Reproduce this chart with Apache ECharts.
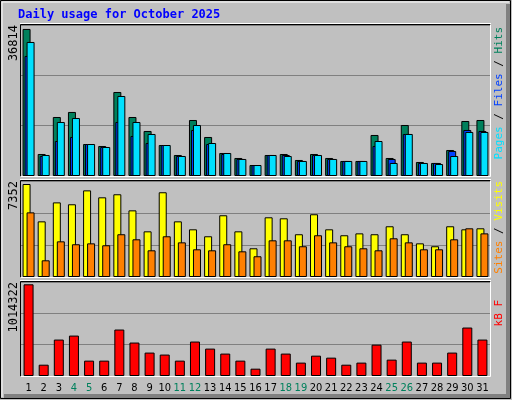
<!DOCTYPE html>
<html>
<head>
<meta charset="utf-8">
<script src="https://cdn.jsdelivr.net/npm/echarts@6/dist/echarts.min.js"></script>
<style>
  html, body { margin: 0; padding: 0; background: #c0c0c0; }
  #chart { width: 512px; height: 400px; }
</style>
</head>
<body>
<div id="chart"></div>
<script>
const days = ["1","2","3","4","5","6","7","8","9","10","11","12","13","14","15","16",
  "17","18","19","20","21","22","23","24","25","26","27","28","29","30","31"];
const weekends = ["4","5","11","12","18","19","25","26"];

const hits = [36814, 5510, 14770, 16030, 8010, 7510, 21030, 14770, 11270, 7760, 5260, 14020, 9770, 5760, 4510, 2750,
  5260, 5510, 4010, 5510, 4510, 3760, 3760, 10270, 4510, 12770, 3510, 3260, 6510, 13770, 14020];
const files = [30050, 5010, 8760, 9770, 8010, 7260, 13520, 10020, 8260, 7760, 5010, 11520, 8010, 5510, 4260, 2750,
  5260, 5260, 3760, 5260, 4260, 3760, 3760, 7510, 4260, 10520, 3260, 3260, 6260, 11520, 11270];
const pages = [33550, 5260, 13520, 14520, 8010, 7260, 20030, 13520, 10520, 7760, 5010, 12770, 8260, 5760, 4260, 2750,
  5260, 5010, 3760, 5260, 4260, 3760, 3760, 8760, 3260, 10520, 3260, 3000, 5010, 11020, 11020];
const visits = [7352, 4400, 5900, 5750, 6850, 6300, 6540, 5270, 3610, 6700, 4400, 3770, 3220, 4880, 3610, 2270,
  4720, 4640, 3380, 4960, 3770, 3300, 3450, 3380, 4010, 3380, 2660, 2430, 4010, 3770, 3850];
const sites = [5110, 1320, 2820, 2590, 2660, 2510, 3380, 2980, 2110, 3220, 2740, 2190, 2110, 2590, 2030, 1640,
  2900, 2900, 2430, 3300, 2740, 2430, 2270, 2110, 3060, 2740, 2190, 2190, 2980, 3850, 3450];
const kbytes = [1014322, 125000, 403000, 447000, 170000, 170000, 514000, 370000, 259000, 237000, 170000, 381000, 303000, 248000, 170000, 81000,
  303000, 248000, 148000, 225000, 203000, 125000, 148000, 347000, 181000, 381000, 148000, 148000, 259000, 536000, 403000];

const chart = echarts.init(document.getElementById("chart"));
const mono = "DejaVu Sans Mono";

const grids = [
  { left: 21, width: 469, top: 25, height: 151 },
  { left: 21, width: 469, top: 181, height: 96 },
  { left: 21, width: 469, top: 282, height: 94 }
];
const maxes = [37800, 7590, 1039800];

const bar = (name, data, color, axis, width, gap) => ({
  name: name, type: "bar", data: data, xAxisIndex: axis, yAxisIndex: axis,
  barWidth: width, barGap: gap, animation: false,
  itemStyle: { color: color, borderColor: "#000", borderWidth: 1 }
});

// vertical text reading bottom-to-top, ending at (x, y)
const vtext = (x, y, parts, size) => ({
  type: "text", x: x, y: y, rotation: Math.PI / 2,
  style: {
    text: parts.map((p, i) => "{s" + i + "|" + p[0] + "}").join(""),
    rich: Object.fromEntries(parts.map((p, i) => ["s" + i, { fill: p[1], font: (size || 11) + "px " + mono }])),
    align: "right", verticalAlign: "middle"
  }
});

const option = {
  backgroundColor: "#c0c0c0",
  animation: false,
  grid: grids,
  xAxis: grids.map((g, i) => ({
    type: "category", gridIndex: i, data: days,
    axisLine: { show: false }, axisTick: { show: false },
    axisLabel: i === 2 ? {
      show: true, fontFamily: "DejaVu Sans Condensed", fontSize: 11, margin: 7, interval: 0,
      color: (v) => weekends.includes(v) ? "#00805c" : "#000"
    } : { show: false }
  })),
  yAxis: grids.map((g, i) => ({
    type: "value", gridIndex: i, min: 0, max: maxes[i], interval: maxes[i] / 3,
    axisLabel: { show: false }, axisLine: { show: false }, axisTick: { show: false },
    splitLine: { lineStyle: { color: "#808080", width: 1 } }
  })),
  series: [
    bar("Hits", hits, "#00805c", 0, 8, "-75%"),
    bar("Files", files, "#0040ff", 0, 8, "-75%"),
    bar("Pages", pages, "#00e0ff", 0, 8, "-75%"),
    bar("Visits", visits, "#ffff00", 1, 8, "-50%"),
    bar("Sites", sites, "#ff8000", 1, 8, "-50%"),
    bar("kB", kbytes, "#ff0000", 2, 10, "0%")
  ],
  graphic: [
    { type: "rect", shape: { x: 0.5, y: 0.5, width: 510, height: 398 }, style: { fill: null, stroke: "#000" } },
    { type: "polyline", shape: { points: [[2, 397], [2, 2], [509, 2]] }, style: { stroke: "#fff", lineWidth: 1 } },
    { type: "polyline", shape: { points: [[508, 4], [508, 396], [4, 396]] }, style: { stroke: "#808080", lineWidth: 4 } },
    { type: "text", x: 18, y: 15, style: { text: "Daily usage for October 2025", fill: "#0000ff", font: "bold 12px " + mono, verticalAlign: "middle" } },
    ...grids.map(g => ({ type: "polyline", z: 10, shape: { points: [[g.left - 0.5, g.top + g.height + 0.5], [g.left - 0.5, g.top - 0.5], [g.left + g.width + 0.5, g.top - 0.5]] }, style: { stroke: "#000", fill: null } })),
    ...grids.map(g => ({ type: "polyline", z: 10, shape: { points: [[g.left + g.width + 0.5, g.top - 0.5], [g.left + g.width + 0.5, g.top + g.height + 0.5], [g.left - 0.5, g.top + g.height + 0.5]] }, style: { stroke: "#fff", fill: null } })),
    ...grids.map(g => ({ type: "line", z: 10, shape: { x1: g.left - 1, y1: g.top - 1.5, x2: g.left + g.width + 1, y2: g.top - 1.5 }, style: { stroke: "#fff" } })),
    vtext(14, 25, [["36814", "#000"]], 12),
    vtext(14, 181, [["7352", "#000"]], 12),
    vtext(14, 282, [["1014322", "#000"]], 12),
    vtext(499, 27, [["Pages", "#00e0ff"], [" / ", "#000"], ["Files", "#0040ff"], [" / ", "#000"], ["Hits", "#00805c"]]),
    vtext(499, 181, [["Sites", "#ff8000"], [" / ", "#000"], ["Visits", "#ffff00"]]),
    vtext(499, 300, [["kB F", "#ff0000"]])
  ]
};

chart.setOption(option);
</script>
</body>
</html>
